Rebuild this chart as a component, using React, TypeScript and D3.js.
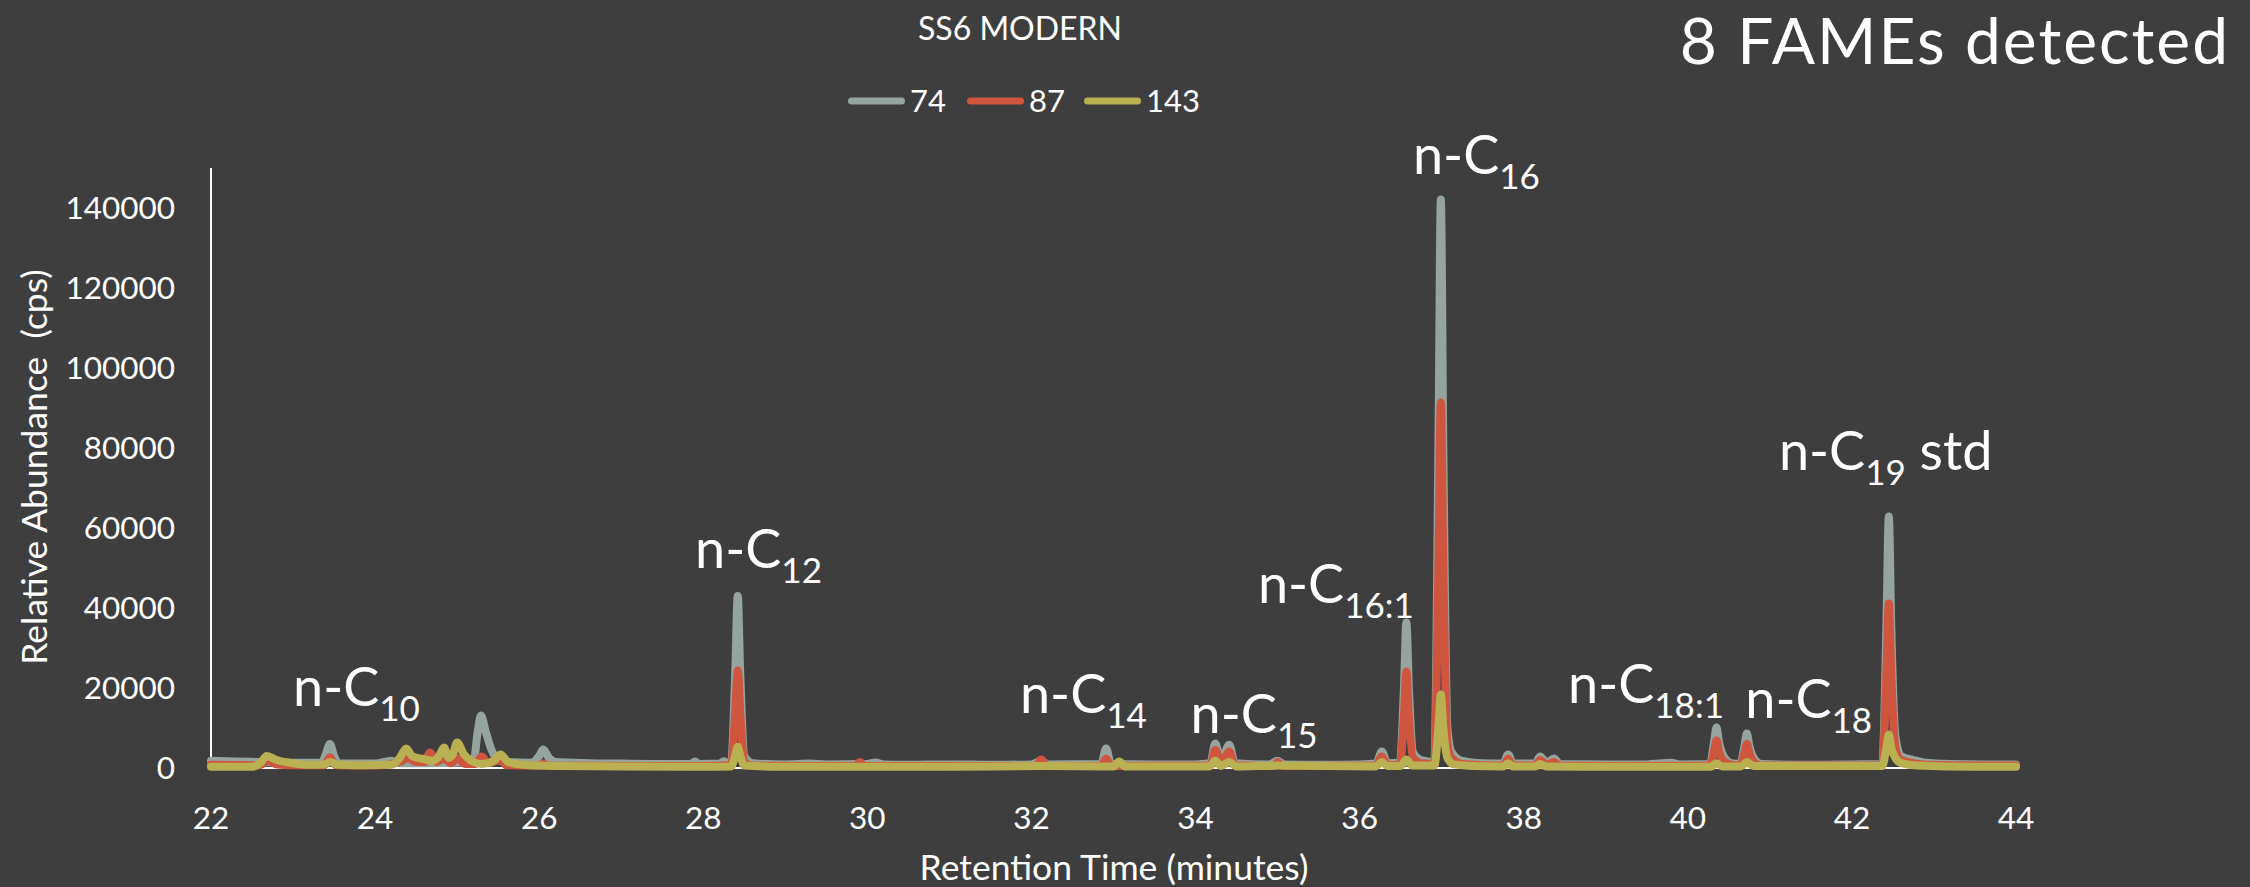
import React from 'react';
import * as d3 from 'd3';

type Pt = [number, number];

const xTicks = [22, 24, 26, 28, 30, 32, 34, 36, 38, 40, 42, 44];
const yTicks = [0, 20000, 40000, 60000, 80000, 100000, 120000, 140000];
const legendLabels = ['74', '87', '143'];
const seriesColors = ['#95A49C', '#CF553F', '#B9B051'];

// ion 74 (time in minutes, abundance in cps)
const series74: Pt[] = [
  [22.0, 1800], [22.3, 1600], [22.6, 1500], [23.0, 1300], [23.35, 1300], [23.4, 3500], [23.45, 6000], [23.5, 3000], [23.55, 1200],
  [24.0, 1100], [24.2, 1800], [24.3, 1200], [24.6, 1200], [25.2, 1500], [25.25, 9000], [25.29, 13100], [25.35, 9000], [25.42, 4500],
  [25.5, 2000], [25.6, 1500], [25.9, 1300], [26.0, 3000], [26.05, 4600], [26.12, 2500], [26.2, 1500], [26.6, 1200], [27.0, 1100],
  [27.5, 1000], [27.85, 1000], [27.9, 1600], [27.95, 1000], [28.2, 1100], [28.25, 1700], [28.3, 1100], [28.34, 1500], [28.39, 24000],
  [28.42, 43000], [28.45, 24000], [28.5, 3000], [28.6, 1200], [29.0, 900], [29.3, 1100], [29.5, 900], [30.0, 1000], [30.1, 1400],
  [30.2, 900], [30.5, 800], [31.0, 900], [31.5, 800], [32.0, 900], [32.12, 1800], [32.2, 900], [32.85, 1000], [32.91, 4900],
  [32.97, 1000], [33.5, 900], [34.0, 900], [34.18, 1200], [34.24, 6100], [34.31, 1800], [34.41, 5800], [34.48, 1200], [34.9, 900],
  [35.0, 1800], [35.08, 900], [35.5, 800], [36.0, 900], [36.2, 1100], [36.27, 4100], [36.34, 1200], [36.49, 1300], [36.54, 20000],
  [36.57, 36400], [36.6, 20000], [36.65, 4000], [36.75, 2000], [36.91, 1500], [36.96, 80000], [36.99, 142100], [37.02, 80000],
  [37.07, 10000], [37.12, 4000], [37.25, 1800], [37.5, 1200], [37.75, 1100], [37.81, 3400], [37.87, 1100], [38.14, 1100], [38.2, 2900],
  [38.28, 1300], [38.37, 2400], [38.44, 1000], [39.0, 900], [39.5, 900], [39.8, 1300], [39.9, 900], [40.27, 1000], [40.32, 6500],
  [40.35, 10100], [40.38, 6500], [40.45, 2500], [40.55, 1100], [40.64, 1000], [40.69, 5500], [40.72, 8600], [40.75, 5500], [40.82, 2000],
  [40.9, 1000], [41.5, 800], [42.0, 900], [42.37, 1000], [42.42, 35000], [42.45, 62900], [42.48, 35000], [42.53, 8000], [42.6, 3000],
  [42.75, 2000], [42.9, 1300], [43.2, 1000], [43.6, 900], [44.0, 900],
];

// ion 87
const series87: Pt[] = [
  [22.0, 800], [22.6, 700], [22.7, 1800], [22.8, 900], [23.0, 700], [23.38, 700], [23.45, 2700], [23.52, 700], [24.0, 600],
  [24.3, 1500], [24.4, 2500], [24.5, 1500], [24.6, 1500], [24.67, 3900], [24.75, 1500], [24.84, 2500], [24.92, 1200], [25.0, 2500],
  [25.1, 1000], [25.22, 1000], [25.3, 2900], [25.38, 1200], [25.53, 2000], [25.6, 700], [26.0, 600], [26.05, 1200], [26.1, 600],
  [27.0, 500], [28.0, 500], [28.34, 700], [28.39, 14000], [28.42, 24400], [28.45, 14000], [28.5, 1500], [28.6, 600], [29.5, 500],
  [29.85, 500], [29.91, 1500], [29.97, 500], [30.5, 500], [31.5, 500], [32.05, 500], [32.12, 2100], [32.19, 500], [32.85, 500],
  [32.91, 2400], [32.97, 500], [34.18, 600], [34.24, 4500], [34.32, 1200], [34.41, 4100], [34.48, 700], [34.95, 500], [35.0, 1500],
  [35.06, 500], [36.2, 600], [36.27, 2900], [36.34, 700], [36.49, 800], [36.54, 13000], [36.57, 24100], [36.6, 13000], [36.65, 2500],
  [36.75, 1200], [36.91, 1000], [36.96, 50000], [36.99, 91400], [37.02, 50000], [37.07, 6000], [37.12, 2500], [37.25, 1000],
  [37.5, 700], [37.75, 600], [37.81, 2300], [37.87, 600], [38.14, 600], [38.2, 2000], [38.28, 800], [38.37, 1500], [38.44, 600],
  [39.0, 500], [40.27, 600], [40.32, 4200], [40.35, 6900], [40.38, 4200], [40.45, 1500], [40.55, 700], [40.64, 600], [40.69, 3800],
  [40.72, 6000], [40.75, 3800], [40.82, 1200], [40.9, 600], [42.37, 600], [42.42, 23000], [42.45, 41100], [42.48, 23000], [42.53, 5000],
  [42.6, 2000], [42.75, 1200], [42.9, 800], [43.5, 600], [44.0, 600],
];

// ion 143
const series143: Pt[] = [
  [22.0, 300], [22.5, 300], [22.6, 1200], [22.68, 3000], [22.8, 2000], [23.0, 1200], [23.2, 800], [23.38, 900], [23.45, 1500],
  [23.55, 800], [23.8, 700], [24.2, 800], [24.3, 2500], [24.38, 4900], [24.45, 3000], [24.52, 2500], [24.6, 2200], [24.7, 1800],
  [24.78, 3000], [24.84, 5100], [24.9, 2500], [24.95, 3500], [25.0, 6400], [25.08, 3500], [25.2, 1500], [25.3, 1000], [25.45, 1800],
  [25.53, 3400], [25.62, 1500], [25.8, 800], [26.2, 500], [27.0, 400], [28.0, 300], [28.34, 400], [28.39, 3200], [28.42, 5300],
  [28.45, 3200], [28.5, 600], [29.0, 300], [30.0, 300], [31.0, 300], [32.12, 500], [33.0, 400], [33.07, 1600], [33.14, 400],
  [34.17, 400], [34.24, 1800], [34.31, 500], [34.41, 1500], [34.5, 400], [35.0, 600], [36.2, 400], [36.27, 1500], [36.34, 500],
  [36.5, 500], [36.57, 2100], [36.64, 600], [36.91, 600], [36.96, 10000], [36.99, 18400], [37.02, 10000], [37.07, 2500], [37.15, 900],
  [37.4, 500], [37.75, 400], [37.81, 1200], [37.87, 400], [38.14, 400], [38.2, 1000], [38.27, 400], [39.0, 300], [40.28, 300],
  [40.35, 1200], [40.42, 400], [40.65, 400], [40.72, 1500], [40.8, 500], [42.37, 500], [42.42, 5000], [42.45, 8400], [42.48, 5000],
  [42.53, 2500], [42.6, 1200], [42.8, 600], [43.5, 300], [44.0, 300],
];

// peak annotations: main text, subscript, trailing text, anchor time, anchor abundance
const peakLabels: { main: string; sub: string; tail: string; t: number; v: number }[] = [
  { main: 'n-C', sub: '10', tail: '', t: 23.0, v: 15500 },
  { main: 'n-C', sub: '12', tail: '', t: 27.9, v: 50000 },
  { main: 'n-C', sub: '14', tail: '', t: 31.86, v: 13750 },
  { main: 'n-C', sub: '15', tail: '', t: 33.94, v: 8750 },
  { main: 'n-C', sub: '16:1', tail: '', t: 34.76, v: 41250 },
  { main: 'n-C', sub: '16', tail: '', t: 36.65, v: 148500 },
  { main: 'n-C', sub: '18:1', tail: '', t: 38.54, v: 16250 },
  { main: 'n-C', sub: '18', tail: '', t: 40.7, v: 12500 },
  { main: 'n-C', sub: '19', tail: ' std', t: 41.11, v: 74500 },
];

const FONT = "Lato, 'Open Sans', sans-serif";
const BG = '#3E3E3E';

export default function App() {
  const W = 2250;
  const H = 887;
  const x = d3.scaleLinear().domain([22, 44]).range([211, 2016]);
  const y = d3.scaleLinear().domain([0, 140000]).range([768, 208]);
  const line = d3
    .line<Pt>()
    .x((d) => x(d[0]))
    .y((d) => y(d[1]))
    .curve(d3.curveMonotoneX);

  const allSeries = [series74, series87, series143];

  const legendX = [848, 967, 1084];

  return (
    <svg
      width={W}
      height={H}
      style={{ position: 'absolute', left: 0, top: 0, display: 'block' }}
      fontFamily={FONT}
    >
      <rect x={0} y={0} width={W} height={H} fill={BG} />

      {/* titles */}
      <text x={1020} y={40} fill="#fff" fontSize={32} textAnchor="middle">SS6 MODERN</text>
      <text x={2230} y={64} fill="#fff" fontSize={64} letterSpacing={2} textAnchor="end">8 FAMEs detected</text>

      {/* legend */}
      {legendLabels.map((lab, i) => (
        <g key={lab}>
          <line x1={legendX[i] + 3.5} x2={legendX[i] + 53.5} y1={101} y2={101} stroke={seriesColors[i]} strokeWidth={7} strokeLinecap="round" />
          <text x={legendX[i] + 62} y={112} fill="#fff" fontSize={31}>{lab}</text>
        </g>
      ))}

      {/* y axis */}
      <line x1={211} x2={211} y1={y(150000)} y2={y(0)} stroke="#fff" strokeWidth={2} />
      {yTicks.map((v) => (
        <text key={v} x={175} y={y(v) + 11} fill="#fff" fontSize={31.5} textAnchor="end">{v}</text>
      ))}
      <text
        transform={`translate(47, 467) rotate(-90)`}
        fill="#fff"
        fontSize={35.5}
        textAnchor="middle"
        style={{ whiteSpace: 'pre' }}
      >
        {'Relative Abundance  (cps)'}
      </text>

      {/* x axis */}
      <line x1={x(22)} x2={x(44)} y1={y(0)} y2={y(0)} stroke="#fff" strokeWidth={2} />
      {xTicks.map((t) => (
        <text key={t} x={x(t)} y={829} fill="#fff" fontSize={31.5} textAnchor="middle">{t}</text>
      ))}
      <text x={1114} y={880} fill="#fff" fontSize={35.5} textAnchor="middle">Retention Time (minutes)</text>

      {/* series */}
      {allSeries.map((s, i) => (
        <path
          key={i}
          d={line(s) || ''}
          fill="none"
          stroke={seriesColors[i]}
          strokeWidth={8}
          strokeLinejoin="round"
          strokeLinecap="round"
        />
      ))}

      {/* peak labels */}
      {peakLabels.map((p, i) => (
        <text key={i} x={x(p.t)} y={y(p.v)} fill="#fff" fontSize={54} style={{ whiteSpace: 'pre' }}>
          <tspan>{p.main}</tspan>
          <tspan dy={15} fontSize={35}>{p.sub}</tspan>
          {p.tail ? <tspan dy={-15} fontSize={54}>{p.tail}</tspan> : null}
        </text>
      ))}
    </svg>
  );
}
